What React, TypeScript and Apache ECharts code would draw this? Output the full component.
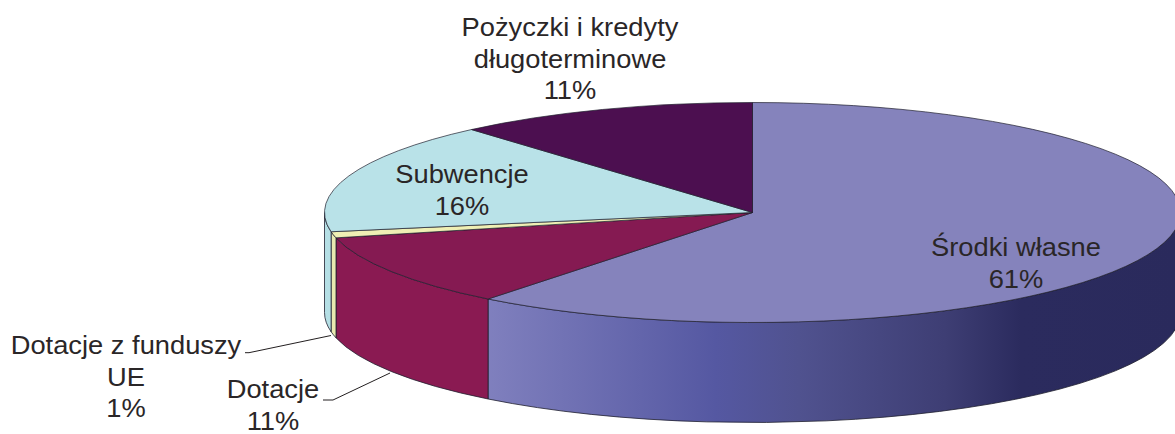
import React, { useEffect, useRef } from "react";
import * as echarts from "echarts";

const categories = ["Środki własne", "Dotacje", "Dotacje z funduszy\nUE", "Subwencje", "Pożyczki i kredyty\ndługoterminowe"];
const shares = [60.6, 10.7, 0.9, 16.4, 11.4];
const topColors = ["#8583bc", "#851a52", "#efefb4", "#b9e2e8", "#4c0f50"];
const sideColors = ["", "#8a1a52", "#e9e9b0", "#b5dfe5", ""];
const labelPlaces = [
  [1016, 263],
  [273, 405],
  [126, 377],
  [462, 190],
  [570, 59],
];
const leaders = [
  { index: 1, points: [[323, 400], [333, 400], [390, 373]] },
  { index: 2, points: [[245, 352.7], [249, 352.7], [331, 335.5]] },
];

const CX = 752.5, CY = 212.5, RX = 428, RY = 110, DEPTH = 100;
const EDGE = "#1f1f2e";

const rad = (t: number) => (t * Math.PI) / 180;
const px = (t: number) => CX + RX * Math.sin(rad(t));
const py = (t: number) => CY - RY * Math.cos(rad(t));
const pct = (v: number) => `${Math.round(v)}%`;

function topPath(t0: number, t1: number) {
  const large = t1 - t0 > 180 ? 1 : 0;
  return `M${CX} ${CY}L${px(t0)} ${py(t0)}A${RX} ${RY} 0 ${large} 1 ${px(t1)} ${py(t1)}Z`;
}
function sidePath(t0: number, t1: number) {
  const large = t1 - t0 > 180 ? 1 : 0;
  return `M${px(t0)} ${py(t0)}A${RX} ${RY} 0 ${large} 1 ${px(t1)} ${py(t1)}L${px(t1)} ${py(t1) + DEPTH}A${RX} ${RY} 0 ${large} 0 ${px(t0)} ${py(t0) + DEPTH}Z`;
}

export default function App() {
  const ref = useRef<HTMLDivElement>(null);
  useEffect(() => {
    const chart = echarts.init(ref.current!, null, { renderer: "svg" });
    const total = shares.reduce((a, b) => a + b, 0);
    const blueGradient = new echarts.graphic.LinearGradient(
      486, 0, 1181, 0,
      [
        { offset: 0, color: "#8080be" },
        { offset: 0.33, color: "#5558a2" },
        { offset: 0.45, color: "#50528f" },
        { offset: 0.66, color: "#3e3e74" },
        { offset: 0.77, color: "#2b2b5e" },
        { offset: 1, color: "#2a2a5c" },
      ],
      true
    );
    chart.setOption({
      animation: false,
      series: [
        {
          type: "custom",
          coordinateSystem: "none",
          silent: true,
          data: shares.map((v) => [v]),
          renderItem: (params: any, api: any) => {
            const i = params.dataIndex;
            const before = shares.slice(0, i).reduce((a, b) => a + b, 0);
            const t0 = (before / total) * 360;
            const t1 = t0 + (api.value(0) / total) * 360;
            const children: any[] = [];
            const s0 = Math.max(t0, 90);
            const s1 = Math.min(t1, 270);
            if (s1 > s0) {
              children.push({
                type: "path",
                shape: { pathData: sidePath(s0, s1) },
                style: { fill: i === 0 ? blueGradient : sideColors[i], stroke: EDGE, lineWidth: 0.8 },
              });
            }
            children.push({
              type: "path",
              shape: { pathData: topPath(t0, t1) },
              style: { fill: topColors[i], stroke: EDGE, lineWidth: 0.7 },
            });
            return { type: "group", children };
          },
        },
      ],
      graphic: [
        ...leaders.map((l) => ({
          type: "polyline",
          shape: { points: l.points },
          style: { stroke: "#231f20", lineWidth: 1, fill: "none" },
        })),
        ...categories.map((c, i) => ({
          type: "text",
          x: labelPlaces[i][0],
          y: labelPlaces[i][1],
          scaleX: 1.05,
          z: 10,
          style: {
            text: `${c}\n${pct(shares[i])}`,
            align: "center",
            verticalAlign: "middle",
            fontSize: 26,
            lineHeight: 31.7,
            fontFamily: "Liberation Sans",
            fill: "#2a2627",
          },
        })),
      ],
    });
    return () => chart.dispose();
  }, []);
  return <div ref={ref} style={{ position: "absolute", left: 0, top: 0, width: 1175, height: 434 }} />;
}
